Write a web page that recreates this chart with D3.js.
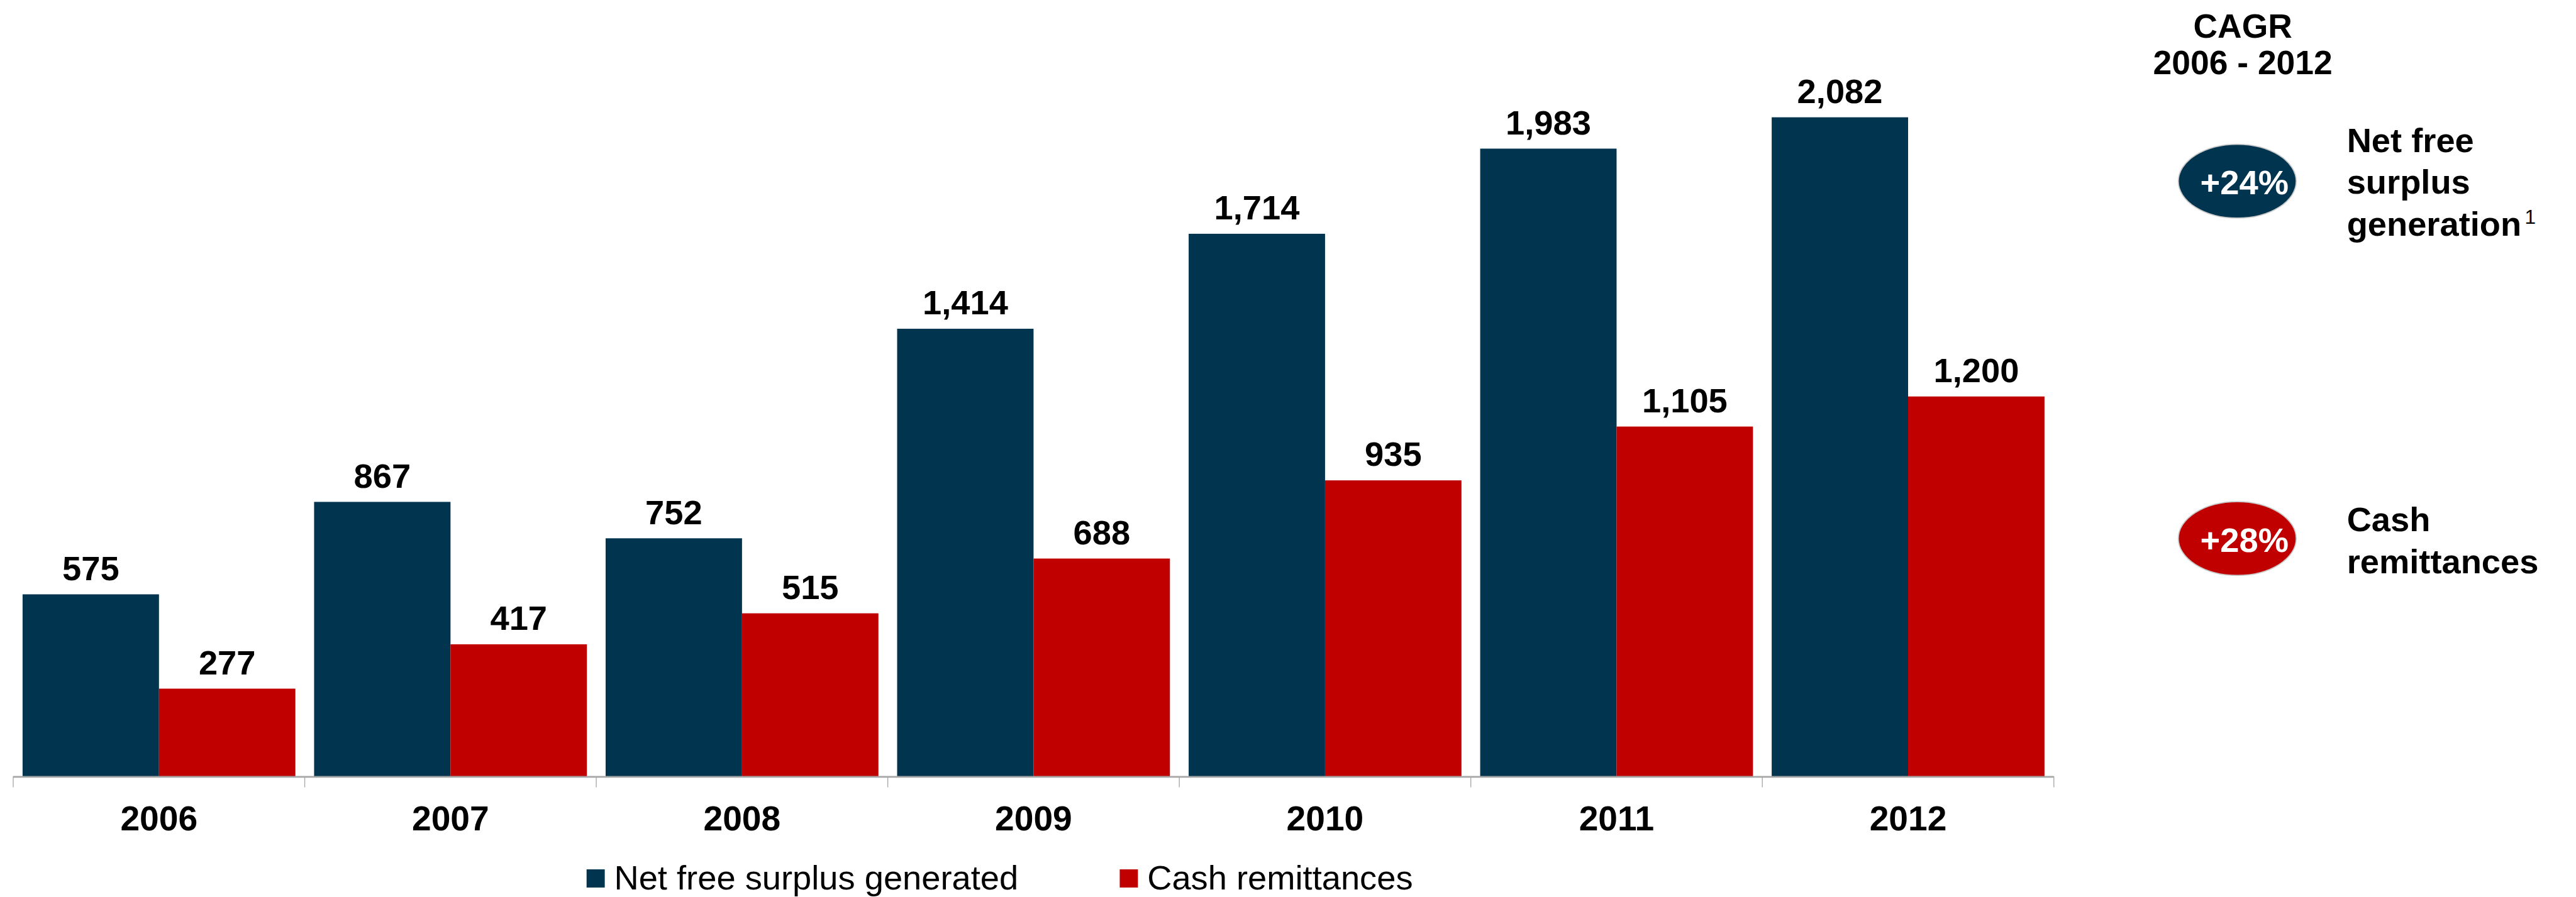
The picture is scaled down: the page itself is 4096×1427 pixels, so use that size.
<!DOCTYPE html>
<html>
<head>
<meta charset="utf-8">
<script src="https://cdn.jsdelivr.net/npm/d3@7"></script>
<style>
  html, body { margin: 0; padding: 0; background: #ffffff; }
  svg { display: block; }
  text { font-family: "Liberation Sans", Arial, sans-serif; }
</style>
</head>
<body>
<div id="chart"></div>
<script>
// data
const years = ["2006", "2007", "2008", "2009", "2010", "2011", "2012"];
const seriesNames = ["Net free surplus generated", "Cash remittances"];
const netFreeSurplus = [575, 867, 752, 1414, 1714, 1983, 2082];
const cashRemittances = [277, 417, 515, 688, 935, 1105, 1200];
const cagrLabels = ["+24%", "+28%"];
const cagrNames = [["Net free", "surplus", "generation"], ["Cash", "remittances"]];

const navy = "#00344f";
const red = "#c00000";
const colors = [navy, red];

// drawn in the reference's own 4677 x 1629 space, scaled to the window by viewBox
const W = 4677, H = 1629;
const svg = d3.select("#chart")
  .append("svg")
  .attr("width", 4096)
  .attr("height", 1427)
  .attr("viewBox", "0 0 " + W + " " + H);

const baseY = 1410;

const x = d3.scaleBand().domain(years).range([24, 3729]).padding(0);
const xInner = d3.scaleBand()
  .domain(seriesNames)
  .range([17, x.bandwidth() - 17])
  .padding(0);
const y = d3.scaleLinear().domain([0, 2400]).range([baseY, 30]);

const rows = years.map((yr, i) => ({
  year: yr,
  values: [netFreeSurplus[i], cashRemittances[i]]
}));

const groups = svg.append("g")
  .selectAll("g")
  .data(rows)
  .enter()
  .append("g")
  .attr("transform", (d) => "translate(" + x(d.year) + ",0)");

groups.selectAll("rect")
  .data((d) => d.values.map((v, k) => ({ name: seriesNames[k], value: v, k: k })))
  .enter()
  .append("rect")
  .attr("x", (d) => xInner(d.name))
  .attr("width", xInner.bandwidth())
  .attr("y", (d) => y(d.value))
  .attr("height", (d) => baseY - y(d.value))
  .attr("fill", (d) => colors[d.k]);

groups.selectAll("text.val")
  .data((d) => d.values.map((v, k) => ({ name: seriesNames[k], value: v })))
  .enter()
  .append("text")
  .attr("class", "val")
  .attr("x", (d) => xInner(d.name) + xInner.bandwidth() / 2)
  .attr("y", (d) => y(d.value) - 26)
  .attr("text-anchor", "middle")
  .attr("font-size", 62)
  .attr("font-weight", "bold")
  .attr("fill", "#000")
  .text((d) => d3.format(",")(d.value));

// x axis: line with ticks at the category boundaries
const axis = svg.append("g");
axis.append("line")
  .attr("x1", x.range()[0])
  .attr("x2", x.range()[1])
  .attr("y1", baseY + 1)
  .attr("y2", baseY + 1)
  .attr("stroke", "#a6a6a6")
  .attr("stroke-width", 3);

const bounds = years.map((d) => x(d)).concat([x.range()[1]]);
axis.selectAll("line.tick")
  .data(bounds)
  .enter()
  .append("line")
  .attr("class", "tick")
  .attr("x1", (d) => d)
  .attr("x2", (d) => d)
  .attr("y1", baseY)
  .attr("y2", baseY + 20)
  .attr("stroke", "#a6a6a6")
  .attr("stroke-width", 1.5);

axis.selectAll("text")
  .data(years)
  .enter()
  .append("text")
  .attr("x", (d) => x(d) + x.bandwidth() / 2)
  .attr("y", 1508)
  .attr("text-anchor", "middle")
  .attr("font-size", 63)
  .attr("font-weight", "bold")
  .text((d) => d);

// legend
const legendX = [1065, 2033];
const legend = svg.append("g");
legend.selectAll("rect")
  .data(seriesNames)
  .enter()
  .append("rect")
  .attr("x", (d, i) => legendX[i])
  .attr("y", 1579)
  .attr("width", 33)
  .attr("height", 33)
  .attr("fill", (d, i) => colors[i]);
legend.selectAll("text")
  .data(seriesNames)
  .enter()
  .append("text")
  .attr("x", (d, i) => legendX[i] + 50)
  .attr("y", 1615)
  .attr("font-size", 62)
  .text((d) => d);

// CAGR panel on the right
const panel = svg.append("g");
panel.append("text")
  .attr("x", 4072).attr("y", 68)
  .attr("text-anchor", "middle")
  .attr("font-size", 61).attr("font-weight", "bold")
  .text("CAGR");
panel.append("text")
  .attr("x", 4072).attr("y", 135)
  .attr("text-anchor", "middle")
  .attr("font-size", 61).attr("font-weight", "bold")
  .text("2006 - 2012");

const badgeY = [329, 978];
const nameTop = [276, 965];

panel.selectAll("ellipse")
  .data(cagrLabels)
  .enter()
  .append("ellipse")
  .attr("cx", 4062)
  .attr("cy", (d, i) => badgeY[i])
  .attr("rx", 107)
  .attr("ry", 67)
  .attr("fill", (d, i) => colors[i])
  .attr("stroke", "#c8c8c8")
  .attr("stroke-width", 2);

panel.selectAll("text.badge")
  .data(cagrLabels)
  .enter()
  .append("text")
  .attr("class", "badge")
  .attr("x", 4075)
  .attr("y", (d, i) => badgeY[i] + 24)
  .attr("text-anchor", "middle")
  .attr("font-size", 62)
  .attr("font-weight", "bold")
  .attr("fill", "#fff")
  .text((d) => d);

cagrNames.forEach((lines, i) => {
  const t = panel.append("text")
    .attr("x", 4261)
    .attr("y", nameTop[i])
    .attr("font-size", 62)
    .attr("font-weight", "bold");
  lines.forEach((ln, j) => {
    t.append("tspan")
      .attr("x", 4261)
      .attr("dy", j === 0 ? 0 : 76)
      .text(ln);
  });
  if (i === 0) {
    t.append("tspan")
      .attr("dy", -22)
      .attr("dx", 6)
      .attr("font-size", 36)
      .attr("font-weight", "normal")
      .text("1");
  }
});
</script>
</body>
</html>
